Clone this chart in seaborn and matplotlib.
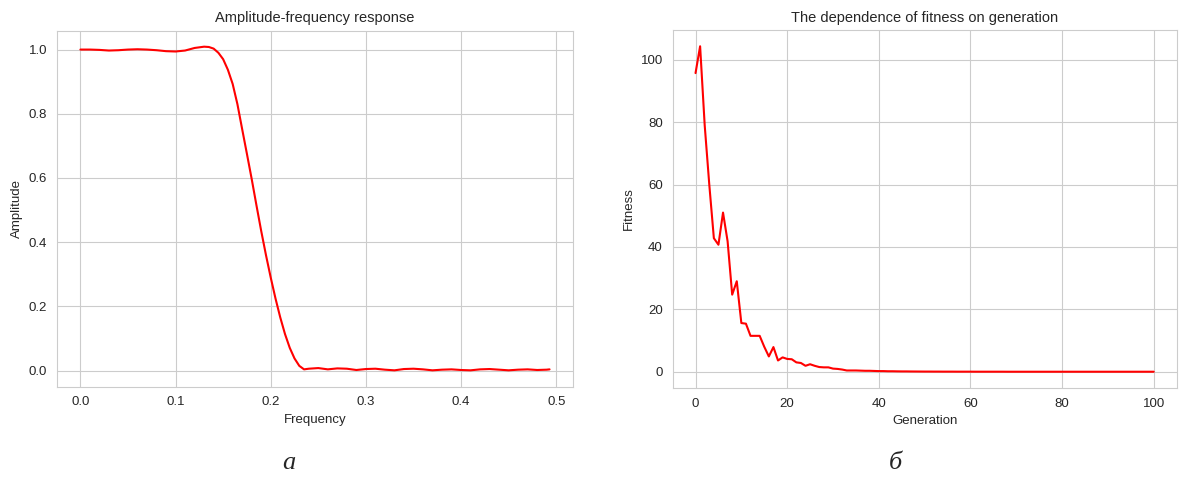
import numpy as np
import pandas as pd
import matplotlib
matplotlib.use("Agg")
import matplotlib.pyplot as plt
import seaborn as sns

# ==========================================
# 1. Data
# ==========================================
freq = [0.00, 0.01, 0.02, 0.03, 0.04, 0.05, 0.06, 0.07, 0.08, 0.09,
        0.10, 0.11, 0.12, 0.13, 0.135, 0.14, 0.145, 0.15, 0.155, 0.16,
        0.165, 0.17, 0.175, 0.18, 0.185, 0.19, 0.195, 0.20, 0.205, 0.21,
        0.215, 0.22, 0.225, 0.23, 0.235, 0.24, 0.25, 0.26, 0.27, 0.28,
        0.29, 0.30, 0.31, 0.32, 0.33, 0.34, 0.35, 0.36, 0.37, 0.38,
        0.39, 0.40, 0.41, 0.42, 0.43, 0.44, 0.45, 0.46, 0.47, 0.48,
        0.49, 0.493]
amplitude = [1.000, 1.000, 0.999, 0.997, 0.998, 1.000, 1.001, 1.000, 0.998, 0.995,
             0.994, 0.997, 1.005, 1.009, 1.008, 1.003, 0.990, 0.970, 0.937, 0.893,
             0.830, 0.752, 0.675, 0.597, 0.515, 0.435, 0.360, 0.290, 0.225, 0.166,
             0.114, 0.071, 0.038, 0.015, 0.004, 0.006, 0.008, 0.004, 0.007, 0.006,
             0.002, 0.005, 0.006, 0.003, 0.001, 0.005, 0.006, 0.004, 0.001, 0.003,
             0.004, 0.002, 0.001, 0.004, 0.005, 0.003, 0.001, 0.003, 0.004, 0.002,
             0.003, 0.004]

generation = list(range(0, 101))
fitness = [95.7, 104.3, 79.0, 60.0, 42.8, 40.7, 51.0, 41.8, 24.7, 29.0,
           15.6, 15.4, 11.5, 11.5, 11.5, 8.0, 4.9, 7.9, 3.6, 4.6,
           4.1, 4.0, 3.0, 2.8, 1.9, 2.4, 1.9, 1.5, 1.4, 1.4,
           1.0, 0.9, 0.7, 0.4, 0.4, 0.4, 0.35, 0.3, 0.3, 0.25,
           0.2, 0.2, 0.15, 0.15, 0.12, 0.1, 0.1, 0.08, 0.07, 0.06,
           0.05, 0.05, 0.04, 0.04, 0.03, 0.03, 0.03, 0.02, 0.02, 0.02,
           0.02, 0.01, 0.01, 0.01, 0.01, 0.01, 0.01, 0.01, 0.0, 0.0,
           0.0, 0.0, 0.0, 0.0, 0.0, 0.0, 0.0, 0.0, 0.0, 0.0,
           0.0, 0.0, 0.0, 0.0, 0.0, 0.0, 0.0, 0.0, 0.0, 0.0,
           0.0, 0.0, 0.0, 0.0, 0.0, 0.0, 0.0, 0.0, 0.0, 0.0,
           0.0]

# ==========================================
# 2. Style
# ==========================================
sns.set_style("whitegrid")
plt.rcParams['font.family'] = ['Liberation Sans', 'DejaVu Sans']

df_amp = pd.DataFrame({'Frequency': freq, 'Amplitude': amplitude})
df_fit = pd.DataFrame({'Generation': generation, 'Fitness': fitness})

fig = plt.figure(figsize=(11.79, 5.0), dpi=100)
ax1 = fig.add_axes([0.0483, 0.227, 0.4377, 0.712])
ax2 = fig.add_axes([0.5705, 0.224, 0.4275, 0.716])

# ==========================================
# 3. Plots
# ==========================================
sns.lineplot(data=df_amp, x='Frequency', y='Amplitude', ax=ax1, color='red', lw=1.5)
ax1.set_title("Amplitude-frequency response", fontsize=10.5)
ax1.set_xlabel("Frequency", fontsize=9.5)
ax1.set_ylabel("Amplitude", fontsize=9.5)
ax1.set_xticks([0.0, 0.1, 0.2, 0.3, 0.4, 0.5])
ax1.set_yticks([0.0, 0.2, 0.4, 0.6, 0.8, 1.0])

sns.lineplot(data=df_fit, x='Generation', y='Fitness', ax=ax2, color='red', lw=1.5)
ax2.set_title("The dependence of fitness on generation", fontsize=10.5)
ax2.set_xlabel("Generation", fontsize=9.5)
ax2.set_ylabel("Fitness", fontsize=9.5)
ax2.set_xticks([0, 20, 40, 60, 80, 100])
ax2.set_yticks([0, 20, 40, 60, 80, 100])

for ax in (ax1, ax2):
    ax.tick_params(labelsize=9.5)

# panel letters
fig.text(289 / 1179, 1 - 463 / 500, "а", fontsize=19, style='italic',
         family='Liberation Serif', ha='center', va='center')
fig.text(895 / 1179, 1 - 463 / 500, "б", fontsize=19, style='italic',
         family='Liberation Serif', ha='center', va='center')

fig.savefig("out.png", dpi=100)
